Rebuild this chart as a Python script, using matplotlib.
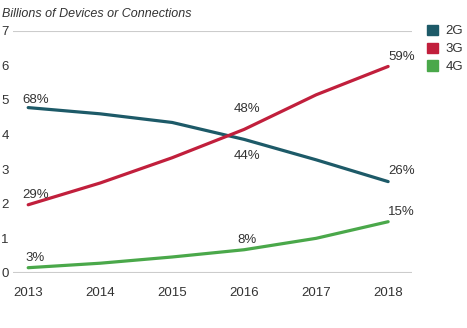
import matplotlib
matplotlib.use('Agg')
import matplotlib.pyplot as plt
from matplotlib.patches import Patch

plt.rcParams['font.family'] = ['Liberation Sans', 'DejaVu Sans']

years = [2013, 2014, 2015, 2016, 2017, 2018]
g2 = [4.78, 4.60, 4.35, 3.86, 3.27, 2.64]
g3 = [1.97, 2.60, 3.33, 4.15, 5.15, 5.97]
g4 = [0.15, 0.28, 0.46, 0.67, 1.00, 1.48]
series = ['2G', '3G', '4G']
colors = ['#1d5a68', '#c11f3c', '#4aa84a']

# (year, value, text)
labels = [
    (2012.92, 5.0, '68%'), (2012.92, 2.25, '29%'), (2012.96, 0.42, '3%'),
    (2015.86, 4.75, '48%'), (2015.86, 3.38, '44%'), (2015.9, 0.95, '8%'),
    (2018.0, 6.25, '59%'), (2018.0, 2.95, '26%'), (2018.0, 1.75, '15%'),
]

fig = plt.figure(figsize=(4.67, 3.28), dpi=100)
ax = fig.add_axes([0.028, 0.168, 0.854, 0.738])

for vals, c in zip([g2, g3, g4], colors):
    ax.plot(years, vals, color=c, lw=2.3, solid_capstyle='round')

for x, y, t in labels:
    ax.text(x, y, t, fontsize=9.5, color='#333333', ha='left', va='center')

ax.set_xlim(2012.79, 2018.33)
ax.set_ylim(0, 7)
ax.set_xticks(years)
ax.set_yticks(range(8))
ax.tick_params(length=0, labelsize=9.5, colors='#333333')
ax.tick_params(axis='x', pad=10)
ax.tick_params(axis='y', pad=3)
for s in ax.spines.values():
    s.set_visible(False)
ax.axhline(7, color='#cccccc', lw=0.8)
ax.axhline(0, color='#cccccc', lw=1.5)

fig.text(0.005, 0.975, 'Billions of Devices or Connections', fontsize=9,
         style='italic', color='#333333', va='top')

handles = [Patch(color=c, label=s) for s, c in zip(series, colors)]
fig.legend(handles=handles, loc='upper left', bbox_to_anchor=(0.915, 0.925),
           frameon=False, fontsize=9.5, handlelength=0.8, handleheight=0.8,
           handletextpad=0.6, labelspacing=0.4, borderaxespad=0, borderpad=0,
           labelcolor='#333333')

fig.savefig('out.png', dpi=100)
